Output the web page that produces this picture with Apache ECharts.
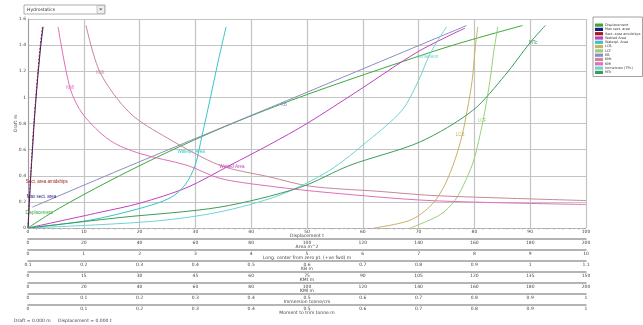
<!DOCTYPE html>
<html>
<head>
<meta charset="utf-8">
<script src="https://cdn.jsdelivr.net/npm/echarts@6/dist/echarts.min.js"></script>
<style>
  html, body { margin: 0; padding: 0; background: #fff; }
  #chart { width: 643px; height: 325px; }
</style>
</head>
<body>
<div id="chart"></div>
<script>
// Draft axis (shared vertical scale)
const draftMin = 0, draftMax = 1.6, draftStep = 0.2;

// Horizontal scales stacked under the plot, top to bottom
const scaleNames = ['Displacement t', 'Area m^2', 'Long. center from zero pt. (+ve fwd) m', 'KB m',
                    'KMt m', 'KMl m', 'Immersion tonne/cm', 'Moment to trim tonne.m'];
const scaleMin  = [0, 0, 0, 0.1, 0, 0, 0, 0];
const scaleMax  = [100, 200, 10, 1.1, 150, 200, 1, 1];
const scaleStep = [10, 20, 1, 0.1, 15, 20, 0.1, 0.1];

// Curves: draft (m) against value on their own scale
const dispDraft = [0, 0.1, 0.2, 0.4, 0.6, 0.8, 1.0, 1.2, 1.4, 1.55];
const dispVal   = [0, 3.6, 7.6, 16.4, 26.0, 36.6, 48.6, 62.0, 76.2, 88.6];

const maxSectDraft = [0, 0.2, 0.4, 0.6, 0.8, 1.0, 1.2, 1.4, 1.54];
const maxSectVal   = [0, 0.5, 1.0, 1.6, 2.2, 2.9, 3.7, 4.6, 5.4];

const midSectDraft = [0, 0.2, 0.4, 0.6, 0.8, 1.0, 1.2, 1.4, 1.54];
const midSectVal   = [0, 0.45, 0.95, 1.5, 2.1, 2.8, 3.55, 4.4, 5.2];

const wetDraft = [0, 0.12, 0.19, 0.31, 0.48, 0.64, 0.8, 1.06, 1.35, 1.53];
const wetVal   = [0, 25.8, 40.1, 57.0, 72.4, 86.7, 100, 119, 139.8, 156.6];

const wplDraft = [0, 0.06, 0.15, 0.23, 0.33, 0.48, 0.71, 0.98, 1.27, 1.54];
const wplVal   = [0, 22.2, 40.1, 50.9, 56.3, 59.9, 62.4, 65.2, 68.1, 71.0];

const lcbDraft = [0, 0.06, 0.18, 0.33, 0.52, 0.71, 0.9, 1.13, 1.36, 1.54];
const lcbVal   = [6.2, 6.85, 7.24, 7.47, 7.65, 7.78, 7.87, 7.96, 8.01, 8.06];

const lcfDraft = [0, 0.1, 0.21, 0.37, 0.52, 0.71, 0.9, 1.13, 1.36, 1.54];
const lcfVal   = [6.85, 7.38, 7.65, 7.85, 7.99, 8.10, 8.19, 8.28, 8.35, 8.42];

const kbDraft = [0.16, 0.4, 0.6, 0.8, 1.0, 1.2, 1.4, 1.55];
const kbVal   = [0.108, 0.240, 0.352, 0.465, 0.578, 0.690, 0.802, 0.886];

const kmtDraft = [0.21, 0.23, 0.25, 0.28, 0.32, 0.39, 0.48, 0.69, 0.88, 1.19, 1.55];
const kmtVal   = [150, 126.9, 108.1, 94.6, 75.8, 65.1, 51.6, 37.4, 27.4, 19.4, 15.6];

const kmlDraft = [0.18, 0.21, 0.27, 0.32, 0.38, 0.48, 0.57, 0.67, 0.87, 1.07, 1.54];
const kmlVal   = [200, 144.1, 108.2, 86.7, 68.8, 57.0, 40.1, 29.4, 19.7, 15.1, 10.8];

const tpcDraft = [0, 0.05, 0.12, 0.25, 0.44, 0.67, 0.9, 1.13, 1.33, 1.54];
const tpcVal   = [0, 0.22, 0.34, 0.45, 0.54, 0.61, 0.67, 0.70, 0.72, 0.75];

const mtcDraft = [0, 0.08, 0.16, 0.31, 0.48, 0.66, 0.9, 1.17, 1.42, 1.55];
const mtcVal   = [0, 0.165, 0.344, 0.487, 0.577, 0.703, 0.797, 0.855, 0.9, 0.927];

const FS = 4.5;

function curve(name, color, scale, vals, drafts, lab, extra) {
  const data = vals.map((v, i) => {
    const item = { value: [v, drafts[i]] };
    if (lab && lab.index === i) {
      item.label = {
        show: true, position: 'inside', formatter: lab.text || name,
        color: color, fontSize: FS, offset: lab.offset || [0, 0]
      };
    }
    return item;
  });
  return Object.assign({
    name: name, type: 'line', xAxisIndex: scale, yAxisIndex: 0,
    data: data, smooth: 0.3, symbol: 'circle', symbolSize: 0, showSymbol: true,
    lineStyle: { color: color, width: 1 }, itemStyle: { color: color },
    label: { show: false }, emphasis: { disabled: true }, z: 3
  }, extra || {});
}

const series = [
  curve('Displacement', '#3aa83a', 0, dispVal, dispDraft, { index: 1, offset: [-9, -2] }),
  curve('Max sect. area', '#1c1c80', 1, maxSectVal, maxSectDraft, { index: 1, offset: [12, -5] }),
  curve('Sect. area amidships', '#a01c1c', 1, midSectVal, midSectDraft, { index: 2, offset: [16, 6] },
        { lineStyle: { color: '#a01c1c', width: 1, type: [2, 1.5] } }),
  curve('Wetted Area', '#c040c0', 1, wetVal, wetDraft, { index: 4, offset: [2, 1] }),
  curve('Waterpl. Area', '#38c4c8', 1, wplVal, wplDraft, { index: 5, offset: [-4, -14] }),
  curve('LCB', '#c8b066', 2, lcbVal, lcbDraft, { index: 5, offset: [-2, 0] }),
  curve('LCF', '#98d078', 2, lcfVal, lcfDraft, { index: 6, offset: [-3, 10] }),
  curve('KB', '#8c8cc0', 3, kbVal, kbDraft, { index: 4, offset: [-11, 7] }),
  curve('KMt', '#c88898', 4, kmtVal, kmtDraft, { index: 9, offset: [0, 0] }),
  curve('KMl', '#e070b8', 5, kmlVal, kmlDraft, { index: 9, offset: [0, 0] }),
  curve('Immersion (TPc)', '#70d2d2', 6, tpcVal, tpcDraft, { index: 8, text: 'Immersion', offset: [-2, 2] }),
  curve('MTc', '#3c9c5c', 7, mtcVal, mtcDraft, { index: 8, offset: [3, 0] })
];

const xAxes = scaleNames.map((nm, k) => ({
  type: 'value', gridIndex: 0, position: 'bottom', offset: k === 0 ? 0 : 11 * k,
  min: scaleMin[k], max: scaleMax[k], interval: scaleStep[k],
  name: nm, nameLocation: 'middle', nameGap: 5.5, nameMoveOverlap: false,
  nameTextStyle: { fontSize: FS, color: '#444', fontFamily: 'DejaVu Sans', lineHeight: 5 },
  axisLine: { show: true, onZero: false,
              lineStyle: k === 0 ? { color: '#a8a8a8', width: 1, type: [2, 3] }
                                 : { color: '#9c9c9c', width: 1.5 } },
  axisTick: { show: false },
  minorTick: k === 0 ? { show: true, splitNumber: 7, length: 1.5, lineStyle: { color: '#b0b0b0' } } : { show: false },
  axisLabel: { fontSize: FS, margin: 1.5, color: '#444', fontFamily: 'DejaVu Sans', lineHeight: 5,
               formatter: v => String(Math.round(v * 10) / 10) },
  splitLine: k === 0 ? { show: true, lineStyle: { color: '#c4c4c4', width: 1.2 } } : { show: false }
}));

const chart = echarts.init(document.getElementById('chart'), null, { renderer: 'canvas' });
chart.setOption({
  animation: false,
  backgroundColor: '#ffffff',
  grid: { left: 28, top: 19, width: 558, height: 209, containLabel: false },
  legend: {
    orient: 'vertical', left: 593, top: 17,
    padding: [6.5, 2, 2.5, 2], borderColor: '#8c8c8c', borderWidth: 0.8, backgroundColor: '#fff',
    itemWidth: 8, itemHeight: 3.2, itemGap: 1.1, icon: 'rect',
    textStyle: { fontSize: 3.4, color: '#333', fontFamily: 'DejaVu Sans', padding: [0, 0, 0, -3] },
    data: series.map(s => s.name)
  },
  xAxis: xAxes,
  yAxis: {
    type: 'value', min: draftMin, max: draftMax, interval: draftStep,
    name: 'Draft m', nameLocation: 'middle', nameGap: 10, nameRotate: 90, nameMoveOverlap: false,
    nameTextStyle: { fontSize: FS, color: '#444', fontFamily: 'DejaVu Sans' },
    axisLine: { show: true, lineStyle: { color: '#9c9c9c', width: 1 } },
    axisTick: { show: false },
    axisLabel: { fontSize: FS, margin: 2, color: '#444', fontFamily: 'DejaVu Sans' },
    splitLine: { show: true, lineStyle: { color: '#c4c4c4', width: 1.2 } }
  },
  graphic: [
    // selector box above the plot
    { type: 'rect', shape: { x: 24, y: 5, width: 81, height: 9 },
      style: { fill: '#fff', stroke: '#9a9a9a', lineWidth: 0.8 } },
    { type: 'rect', shape: { x: 97, y: 5.5, width: 7.5, height: 8 },
      style: { fill: '#eeeeee', stroke: '#a8a8a8', lineWidth: 0.6 } },
    { type: 'polygon', shape: { points: [[99, 8.5], [102.5, 8.5], [100.75, 10.5]] },
      style: { fill: '#666' } },
    { type: 'text', x: 27, y: 7.5,
      style: { text: 'Hydrostatics', fontSize: FS, fill: '#333', fontFamily: 'DejaVu Sans' } },
    // legend heading
    { type: 'text', x: 596, y: 18.5,
      style: { text: 'Hydrostatics', fontSize: 3.8, fill: '#333', fontFamily: 'DejaVu Sans' } },
    // status line
    { type: 'text', x: 14, y: 318,
      style: { text: 'Draft = 0.000 m', fontSize: FS, fill: '#444', fontFamily: 'DejaVu Sans' } },
    { type: 'text', x: 58, y: 318,
      style: { text: 'Displacement = 0.000 t', fontSize: FS, fill: '#444', fontFamily: 'DejaVu Sans' } }
  ],
  series: series
});
</script>
</body>
</html>
